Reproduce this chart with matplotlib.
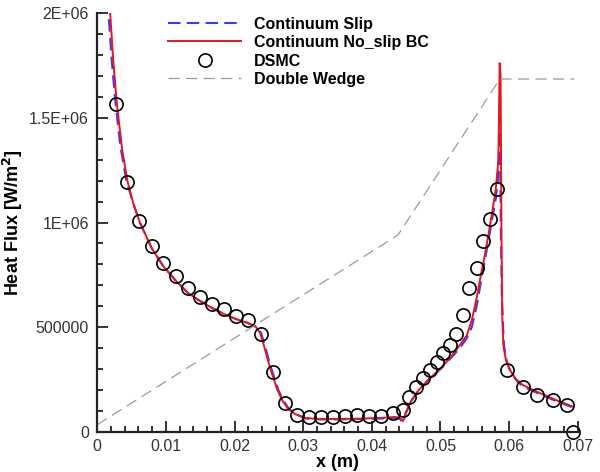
import numpy as np
import matplotlib
matplotlib.use("Agg")
import matplotlib.pyplot as plt
from matplotlib.ticker import FixedLocator, MultipleLocator

plt.rcParams['font.family'] = ['Liberation Sans', 'DejaVu Sans']

# --- Continuum No_slip BC (red) -------------------------------------
x_noslip = [0.0018, 0.00189, 0.00233, 0.00287, 0.00364, 0.00444, 0.00524, 0.00619,
            0.00793, 0.00961, 0.01135, 0.01324, 0.01499, 0.01674, 0.01848, 0.02023,
            0.02198, 0.02314, 0.02372, 0.02430, 0.02489, 0.02547, 0.02620, 0.02692,
            0.02780, 0.02882, 0.03027, 0.03245, 0.03536, 0.03827, 0.04119, 0.04337,
            0.04410, 0.04453, 0.04497, 0.04570, 0.04672, 0.04817, 0.04992, 0.05137,
            0.05283, 0.05385, 0.05457, 0.05530, 0.05588, 0.05647, 0.05705, 0.05763,
            0.05807, 0.05843, 0.05862, 0.05875, 0.05890, 0.05901, 0.05916, 0.05952,
            0.06010, 0.06098, 0.06200, 0.06447, 0.06680, 0.06930]
q_noslip = [2.05e6, 2.0e6, 1.776e6, 1.566e6, 1.346e6, 1.193e6, 1.093e6, 1.002e6,
            0.878e6, 0.792e6, 0.726e6, 0.663e6, 0.625e6, 0.592e6, 0.563e6, 0.539e6,
            0.520e6, 0.501e6, 0.473e6, 0.411e6, 0.339e6, 0.277e6, 0.205e6, 0.153e6,
            0.110e6, 0.086e6, 0.067e6, 0.062e6, 0.062e6, 0.064e6, 0.067e6, 0.072e6,
            0.067e6, 0.052e6, 0.095e6, 0.148e6, 0.196e6, 0.248e6, 0.301e6, 0.353e6,
            0.415e6, 0.463e6, 0.535e6, 0.644e6, 0.749e6, 0.845e6, 0.955e6, 1.069e6,
            1.165e6, 1.298e6, 1.761e6, 1.70e6, 0.869e6, 0.535e6, 0.415e6, 0.344e6,
            0.296e6, 0.253e6, 0.224e6, 0.186e6, 0.153e6, 0.121e6]

# --- Continuum Slip (blue dashed) -----------------------------------
x_slip = [0.0016, 0.00164, 0.00211, 0.00262, 0.00335, 0.00422, 0.00524, 0.00619,
          0.00793, 0.00961, 0.01135, 0.01324, 0.01499, 0.01674, 0.01848, 0.02023,
          0.02198, 0.02328, 0.02386, 0.02445, 0.02503, 0.02562, 0.02634, 0.02707,
          0.02794, 0.02890, 0.03027, 0.03245, 0.03536, 0.03827, 0.04119, 0.04337,
          0.04410, 0.04453, 0.04497, 0.04570, 0.04672, 0.04817, 0.04992, 0.05137,
          0.05283, 0.05385, 0.05457, 0.05530, 0.05588, 0.05647, 0.05705, 0.05763,
          0.05807, 0.05836, 0.05858, 0.05865, 0.05880, 0.05895, 0.05924, 0.05967,
          0.06025, 0.06113, 0.06215, 0.06447, 0.06680, 0.06913]
q_slip = [2.06e6, 2.0e6, 1.776e6, 1.585e6, 1.370e6, 1.203e6, 1.093e6, 1.002e6,
          0.878e6, 0.792e6, 0.726e6, 0.663e6, 0.625e6, 0.592e6, 0.563e6, 0.539e6,
          0.520e6, 0.501e6, 0.473e6, 0.411e6, 0.339e6, 0.277e6, 0.205e6, 0.153e6,
          0.110e6, 0.086e6, 0.065e6, 0.060e6, 0.060e6, 0.062e6, 0.064e6, 0.068e6,
          0.062e6, 0.043e6, 0.090e6, 0.145e6, 0.194e6, 0.246e6, 0.298e6, 0.348e6,
          0.401e6, 0.449e6, 0.501e6, 0.606e6, 0.716e6, 0.821e6, 0.926e6, 1.036e6,
          1.117e6, 1.203e6, 1.40e6, 1.44e6, 0.950e6, 0.630e6, 0.415e6, 0.334e6,
          0.286e6, 0.243e6, 0.215e6, 0.181e6, 0.148e6, 0.119e6]

# --- DSMC ------------------------------------------------------------
x_dsmc = [0.00272, 0.00441, 0.00616, 0.00796, 0.00965, 0.01145, 0.01329, 0.01499,
          0.01674, 0.01848, 0.02023, 0.02202, 0.02382, 0.02554, 0.02736, 0.02911,
          0.03085, 0.03260, 0.03439, 0.03609, 0.03784, 0.03959, 0.04133, 0.04312,
          0.04458, 0.04548, 0.04642, 0.04740, 0.04846, 0.04944, 0.05040, 0.05137,
          0.05225, 0.05326, 0.05421, 0.05526, 0.05622, 0.05719, 0.05817, 0.05971,
          0.06195, 0.06399, 0.06632, 0.06836, 0.06934]
q_dsmc = [1.564e6, 1.195e6, 1.007e6, 0.889e6, 0.807e6, 0.745e6, 0.689e6, 0.646e6,
          0.611e6, 0.586e6, 0.555e6, 0.535e6, 0.466e6, 0.285e6, 0.137e6, 0.079e6,
          0.070e6, 0.070e6, 0.070e6, 0.075e6, 0.079e6, 0.075e6, 0.078e6, 0.092e6,
          0.105e6, 0.169e6, 0.217e6, 0.258e6, 0.295e6, 0.332e6, 0.375e6, 0.415e6,
          0.470e6, 0.558e6, 0.686e6, 0.781e6, 0.910e6, 1.018e6, 1.162e6, 0.296e6,
          0.215e6, 0.178e6, 0.153e6, 0.130e6, 0.002e6]

# --- Double wedge geometry (scaled) ---------------------------------
x_wedge = [0.0, 0.0438, 0.05865, 0.0695]
q_wedge = [0.035e6, 0.94e6, 1.685e6, 1.685e6]

# ticks
x_ticks = [0, 0.01, 0.02, 0.03, 0.04, 0.05, 0.06, 0.07]
x_ticklabels = ['0', '0.01', '0.02', '0.03', '0.04', '0.05', '0.06', '0.07']
y_ticks = [0, 5e5, 1e6, 1.5e6, 2e6]
y_ticklabels = ['0', '500000', '1E+06', '1.5E+06', '2E+06']

fig = plt.figure(figsize=(6, 4.72), dpi=100)
ax = fig.add_axes([0.162, 0.0847, 0.801, 0.8877])

ax.plot(x_slip, q_slip, color='#3a3aff', lw=1.5, ls=(0, (6, 3)),
        label='Continuum Slip')
ax.plot(x_noslip, q_noslip, color='#e8141e', lw=1.4,
        label='Continuum No_slip BC')
ax.plot(x_dsmc, q_dsmc, ls='none', marker='o', ms=9.5, mfc='none',
        mec='black', mew=1.2, clip_on=False, label='DSMC')
ax.plot(x_wedge, q_wedge, color='#9a9a9a', lw=0.9, ls=(0, (9, 5)),
        label='Double Wedge')

ax.set_xlim(0, 0.07)
ax.set_ylim(0, 2e6)

ax.xaxis.set_major_locator(FixedLocator(x_ticks))
ax.xaxis.set_minor_locator(MultipleLocator(0.002))
ax.set_xticklabels(x_ticklabels)
ax.yaxis.set_major_locator(FixedLocator(y_ticks))
ax.yaxis.set_minor_locator(MultipleLocator(1e5))
ax.set_yticklabels(y_ticklabels)

ax.tick_params(which='both', direction='in', width=1.3, labelsize=11.5,
               colors='#222222', labelcolor='#333333')
ax.tick_params(which='major', length=8)
ax.tick_params(which='minor', length=4)
ax.tick_params(axis='x', pad=5)
ax.tick_params(axis='y', pad=6)

for s in ['top', 'right']:
    ax.spines[s].set_visible(False)
for s in ['left', 'bottom']:
    ax.spines[s].set_linewidth(1.6)
    ax.spines[s].set_color('#222222')

ax.set_xlabel('x (m)', fontsize=13, fontweight='bold', labelpad=0)
ax.set_ylabel('Heat Flux [W/m$^\\mathbf{2}$]', fontsize=13, fontweight='bold',
              labelpad=3)

leg = ax.legend(loc='upper left', bbox_to_anchor=(0.28, 0.965),
                bbox_transform=fig.transFigure, frameon=False,
                handlelength=4.6, handletextpad=0.8, labelspacing=0.22,
                borderpad=0, borderaxespad=0,
                prop={'weight': 'bold', 'size': 11.5})

plt.savefig('out.png', dpi=100)
